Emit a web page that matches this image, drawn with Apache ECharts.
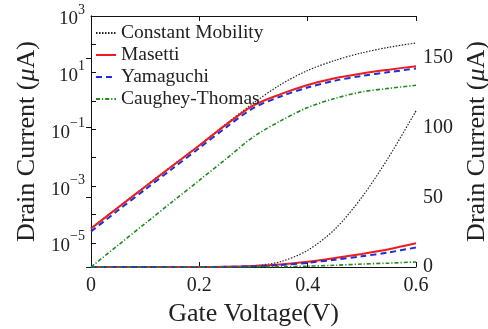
<!DOCTYPE html>
<html>
<head>
<meta charset="utf-8">
<script src="https://cdn.jsdelivr.net/npm/echarts@6/dist/echarts.min.js"></script>
<style>
  html, body { margin: 0; padding: 0; background: #fff; }
  #chart { width: 488px; height: 329px; }
</style>
</head>
<body>
<div id="chart"></div>
<script>
// Gate voltage sweep (V)
var gateVoltage = [0, 0.05, 0.1, 0.15, 0.2, 0.25, 0.3, 0.35, 0.4, 0.45, 0.5, 0.55, 0.6];

// Drain current (µA) for each mobility model
var constantMobility = [3.3e-5, 1.8e-4, 9.8e-4, 5.3e-3, 0.028, 0.16, 0.85, 3.8, 12, 27, 50, 79, 112];
var masetti          = [3.2e-5, 1.75e-4, 9.5e-4, 5.1e-3, 0.027, 0.15, 0.7, 1.75, 3.7, 6.4, 9.4, 12.8, 17];
var yamaguchi        = [2.5e-5, 1.4e-4, 7.6e-4, 4.1e-3, 0.022, 0.12, 0.57, 1.45, 3.0, 5.2, 7.7, 10.5, 14];
var caugheyThomas    = [1.4e-6, 8.2e-6, 4.8e-5, 2.8e-4, 1.6e-3, 9.3e-3, 0.055, 0.2, 0.59, 1.23, 2.1, 2.8, 3.6];

var modelNames = ['Constant Mobility', 'Masetti', 'Yamaguchi', 'Caughey-Thomas'];
var modelData = [constantMobility, masetti, yamaguchi, caugheyThomas];

// Tick labels
var xTickLabels = { 0: '0', 0.2: '0.2', 0.4: '0.4', 0.6: '0.6' };
var logLabelExponents = [-5, -3, -1, 1, 3];

var SERIF = '"Liberation Serif", "DejaVu Serif", serif';
var styles = [
  { color: '#222222', width: 1.2, type: [1.5, 1.5] },
  { color: '#ee1c1c', width: 2, type: 'solid' },
  { color: '#1f2fd8', width: 2, type: [6, 4] },
  { color: '#1d8a1d', width: 1.6, type: [4, 2, 1.2, 2] }
];

function pairs(arr) {
  return gateVoltage.map(function (v, i) { return [v, arr[i]]; });
}

var series = [];
// log-scale set (left axis) and linear-scale set (right axis)
[0, 1].forEach(function (axisIdx) {
  modelData.forEach(function (arr, k) {
    series.push({
      name: modelNames[k],
      type: 'line',
      xAxisIndex: 0,
      yAxisIndex: axisIdx,
      data: pairs(arr),
      smooth: 0.3,
      symbol: 'none',
      lineStyle: { color: styles[k].color, width: styles[k].width, type: styles[k].type },
      itemStyle: { color: styles[k].color },
      z: 2 + k,
      silent: true,
      animation: false
    });
  });
});

var axisLineStyle = { lineStyle: { color: '#111', width: 1 } };
var tickStyle = { inside: true, length: 5, lineStyle: { color: '#111', width: 1 } };
var nameStyle = {
  fontFamily: SERIF, fontSize: 26, color: '#222',
  rich: { m: { fontFamily: SERIF, fontSize: 26, fontStyle: 'italic', color: '#222' } }
};

var chart = echarts.init(document.getElementById('chart'), null, { renderer: 'canvas' });
chart.setOption({
  animation: false,
  backgroundColor: '#fff',
  grid: { left: 91, right: 72, top: 16, bottom: 62, containLabel: false, outerBoundsMode: 'none' },
  legend: {
    data: modelNames,
    orient: 'vertical',
    left: 95,
    top: 23,
    padding: 0,
    itemWidth: 20,
    itemHeight: 12,
    itemGap: 2,
    itemStyle: { opacity: 0 },
    textStyle: { fontFamily: SERIF, fontSize: 19.5, color: '#222' },
    selectedMode: false
  },
  xAxis: [{
    type: 'value',
    min: 0, max: 0.6, interval: 0.2,
    name: 'Gate Voltage(V)',
    nameLocation: 'middle',
    nameGap: 33,
    nameTextStyle: nameStyle,
    axisLine: axisLineStyle,
    axisTick: tickStyle,
    splitLine: { show: false },
    axisLabel: {
      margin: 9,
      fontFamily: SERIF, fontSize: 20, color: '#222',
      formatter: function (v) {
        var key = Math.round(v * 10) / 10;
        return xTickLabels[key] !== undefined ? xTickLabels[key] : '';
      }
    }
  }, {
    type: 'value',
    position: 'top',
    min: 0, max: 0.6, interval: 0.2,
    axisLine: axisLineStyle,
    axisTick: tickStyle,
    axisLabel: { show: false },
    splitLine: { show: false }
  }],
  yAxis: [{
    type: 'log',
    logBase: 10,
    min: 1.4e-6, max: 1000,
    position: 'left',
    name: 'Drain Current ({m|μ}A)',
    nameLocation: 'middle',
    nameGap: 50,
    nameTextStyle: nameStyle,
    axisLine: axisLineStyle,
    axisTick: tickStyle,
    splitLine: { show: false },
    axisLabel: {
      margin: 6,
      color: '#222',
      formatter: function (v) {
        var e = Math.log10(v);
        var r = Math.round(e);
        if (Math.abs(e - r) > 1e-6 || logLabelExponents.indexOf(r) < 0) return '';
        var exp = r < 0 ? '\u2212' + (-r) : String(r);
        return '{b|10}{s|' + exp + '}';
      },
      rich: {
        b: { fontFamily: SERIF, fontSize: 19, color: '#222', lineHeight: 26, verticalAlign: 'bottom' },
        s: { fontFamily: SERIF, fontSize: 14, color: '#222', lineHeight: 12, verticalAlign: 'top' }
      }
    }
  }, {
    type: 'value',
    min: 0, max: 180, interval: 50,
    position: 'right',
    name: 'Drain Current ({m|μ}A)',
    nameLocation: 'middle',
    nameGap: 38,
    nameTextStyle: nameStyle,
    axisLine: axisLineStyle,
    axisTick: tickStyle,
    splitLine: { show: false },
    axisLabel: {
      margin: 7,
      fontFamily: SERIF, fontSize: 20, color: '#222',
      showMaxLabel: false
    }
  }],
  series: series
});
</script>
</body>
</html>
